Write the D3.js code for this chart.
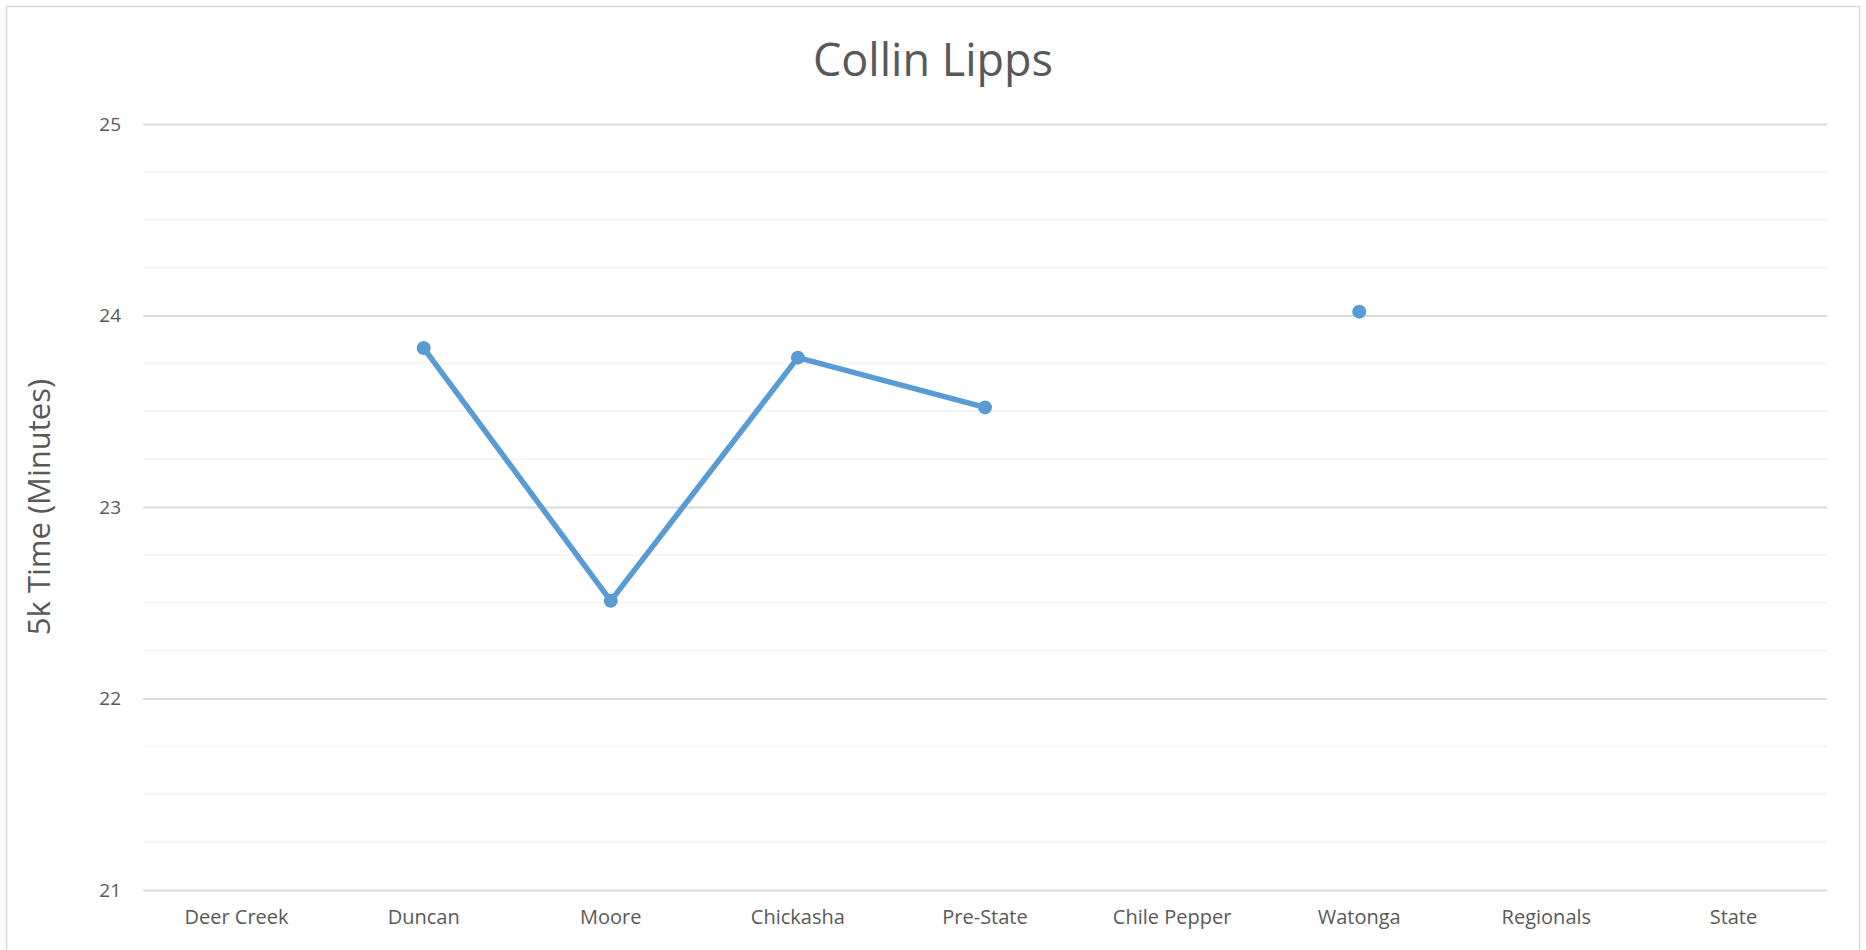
<!DOCTYPE html>
<html>
<head>
<meta charset="utf-8">
<script src="https://cdn.jsdelivr.net/npm/d3@7"></script>
<style>
  body { margin: 0; background: #fff; }
  text { font-family: "Open Sans", "Noto Sans", sans-serif; fill: #595959; }
</style>
</head>
<body>
<div id="chart"></div>
<script>
// race names and 5k times (minutes); null = no result
var races = ["Deer Creek", "Duncan", "Moore", "Chickasha", "Pre-State", "Chile Pepper", "Watonga", "Regionals", "State"];
var times = [null, 23.83, 22.51, 23.78, 23.52, null, 24.02, null, null];
var yTicks = [21, 22, 23, 24, 25];

var W = 1866, H = 950;
var margin = {top: 124, right: 39, bottom: 60, left: 143},
    width = W - margin.left - margin.right,
    height = H - margin.top - margin.bottom;

var svg = d3.select("#chart")
    .append("svg")
    .attr("width", W)
    .attr("height", H);

// outer frame
svg.append("rect")
    .attr("x", 6.5).attr("y", 6.5)
    .attr("width", 1853).attr("height", 960)
    .attr("fill", "none")
    .attr("stroke", "#d9d9d9")
    .attr("stroke-width", 1.5);

var g = svg.append("g")
    .attr("transform", "translate(" + margin.left + "," + margin.top + ")");

var x = d3.scaleBand()
    .domain(races)
    .range([0, width])
    .padding(0);

var y = d3.scaleLinear()
    .domain([21, 25])
    .range([height, 0]);

// minor gridlines every 0.25
var minor = d3.range(21, 25.001, 0.25).filter(function (v) { return v % 1 !== 0; });
g.append("g")
    .selectAll("line")
    .data(minor)
    .enter()
    .append("line")
    .attr("x1", 0).attr("x2", width)
    .attr("y1", function (d) { return y(d); })
    .attr("y2", function (d) { return y(d); })
    .attr("stroke", "#f2f2f2")
    .attr("stroke-width", 1.5);

// major gridlines + y labels
var yAxis = g.append("g")
    .call(d3.axisLeft(y).tickValues(yTicks).tickSize(-width).tickPadding(22).tickFormat(d3.format("d")));
yAxis.select(".domain").remove();
yAxis.selectAll("line").attr("stroke", "#d9d9d9").attr("stroke-width", 2);
yAxis.selectAll("text")
    .style("font-size", "19px")
    .style("fill", "#595959")
    .style("font-family", "'Open Sans', sans-serif");

// x labels
var xAxis = g.append("g")
    .attr("transform", "translate(0," + height + ")")
    .call(d3.axisBottom(x).tickSize(0).tickPadding(20));
xAxis.select(".domain").remove();
xAxis.selectAll("text")
    .style("font-size", "20px")
    .style("fill", "#595959")
    .style("font-family", "'Open Sans', sans-serif");

var cx = function (d, i) { return x(races[i]) + x.bandwidth() / 2; };

// line (gaps where there is no time)
var line = d3.line()
    .defined(function (d) { return d !== null; })
    .x(cx)
    .y(function (d) { return y(d); });

g.append("path")
    .datum(times)
    .attr("d", line)
    .attr("fill", "none")
    .attr("stroke", "#5b9bd5")
    .attr("stroke-width", 5.5)
    .attr("stroke-linejoin", "round")
    .attr("stroke-linecap", "round");

g.append("g")
    .selectAll("circle")
    .data(times.map(function (t, i) { return {t: t, i: i}; }).filter(function (d) { return d.t !== null; }))
    .enter()
    .append("circle")
    .attr("cx", function (d) { return x(races[d.i]) + x.bandwidth() / 2; })
    .attr("cy", function (d) { return y(d.t); })
    .attr("r", 7)
    .attr("fill", "#5b9bd5");

// title
svg.append("text")
    .attr("x", 933)
    .attr("y", 76)
    .attr("text-anchor", "middle")
    .style("font-size", "45px")
    .text("Collin Lipps");

// y axis title
svg.append("text")
    .attr("transform", "translate(50," + (margin.top + height / 2) + ") rotate(-90)")
    .attr("text-anchor", "middle")
    .style("font-size", "31px")
    .text("5k Time (Minutes)");
</script>
</body>
</html>
